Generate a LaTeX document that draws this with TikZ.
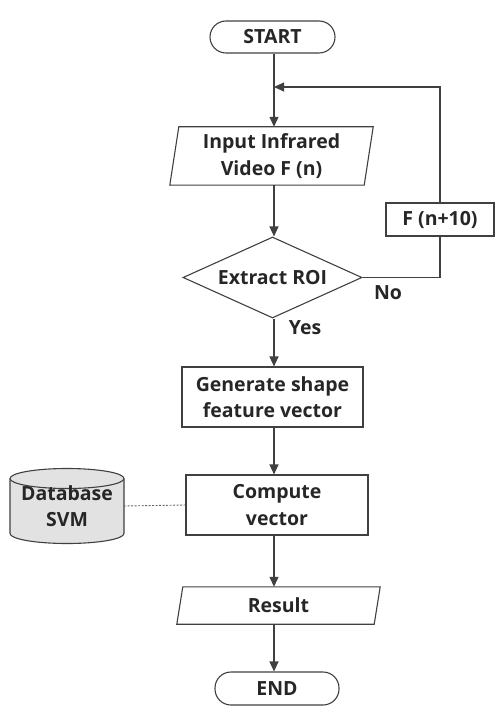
\documentclass[tikz,border=0pt]{standalone}
\usepackage{fontspec}
\setmainfont{Open Sans}
\usetikzlibrary{shapes.geometric,arrows.meta}
\definecolor{ln}{HTML}{404040}
\definecolor{tx}{HTML}{262626}
\definecolor{dbfill}{HTML}{E2E2E2}
\begin{document}
\begin{tikzpicture}[x=1pt,y=-1pt,
  every node/.style={text=tx,font=\bfseries\fontsize{19.5}{26.5}\selectfont,align=center,inner sep=0pt},
  line/.style={draw=ln,line width=1.1pt},
  arr/.style={line,-{Triangle[length=10pt,width=9pt]}},
  term/.style={line,rectangle,rounded corners=16pt,minimum width=125pt,minimum height=32pt},
  box/.style={line,rectangle,minimum width=181pt,minimum height=60pt},
  lbl/.style={font=\bfseries\fontsize{19.5}{20}\selectfont}]
\useasboundingbox (0,0) rectangle (497,711);
% terminals
\node[term] (start) at (272.5,37) {START};
\node[term,minimum width=124pt,minimum height=33pt] (end) at (277,688.5) {END};
% input parallelogram
\node[minimum width=194pt,minimum height=58pt] (in) at (271.5,156) {Input Infrared\\Video F (n)};
\draw[line] ([xshift=4.5pt]in.north west) -- ([xshift=4.5pt]in.north east) -- ([xshift=-4.5pt]in.south east) -- ([xshift=-4.5pt]in.south west) -- cycle;
% diamond
\node[line,diamond,aspect=2.2,minimum width=179pt,minimum height=81pt] (roi) at (272.5,277.5) {Extract ROI};
% F(n+10)
\node[line,rectangle,minimum width=108pt,minimum height=33pt] (fn) at (440,219.5) {F (n+10)};
% generate
\node[box] (gen) at (272.5,397) {Generate shape\\feature vector};
% compute
\node[box,minimum width=182pt] (comp) at (277,505) {Compute\\vector};
% result parallelogram
\node[minimum width=197pt,minimum height=37pt] (res) at (278.5,605.5) {Result};
\draw[line] ([xshift=3pt]res.north west) -- ([xshift=3pt]res.north east) -- ([xshift=-3pt]res.south east) -- ([xshift=-3pt]res.south west) -- cycle;
% database cylinder
\coordinate (dbc) at (67,506);
\draw[line,fill=dbfill] (10,533.5) arc[start angle=180,end angle=360,x radius=57pt,y radius=10pt] -- (124,478.5) arc[start angle=0,end angle=180,x radius=57pt,y radius=10pt] -- cycle;
\draw[line] (10,478.5) arc[start angle=180,end angle=360,x radius=57pt,y radius=10pt];
\node[minimum width=114pt,minimum height=55pt] (db) at (dbc) {Database\\SVM};
% connectors
\coordinate (j) at (274,87);
\draw[arr] (start.south -| j) -- (in.north -| j);
\draw[arr] (in.south -| j) -- (roi.north -| j);
\draw[arr] (roi.south -| j) -- (gen.north -| j);
\draw[arr] (gen.south -| j) -- (comp.north -| j);
\draw[arr] (comp.south -| j) -- (res.north -| j);
\draw[arr] (res.south -| j) -- (end.north -| j);
\draw[line] (roi.east) -| (fn.south);
\draw[arr] (fn.north) |- (j);
\draw[draw=ln!80,line width=0.9pt,dash pattern=on 2pt off 1.5pt] (db.east) -- (comp.west);
% labels
\node[lbl] (no) at (388,293) {No};
\node[lbl] (yes) at (305,328) {Yes};
\end{tikzpicture}
\end{document}
